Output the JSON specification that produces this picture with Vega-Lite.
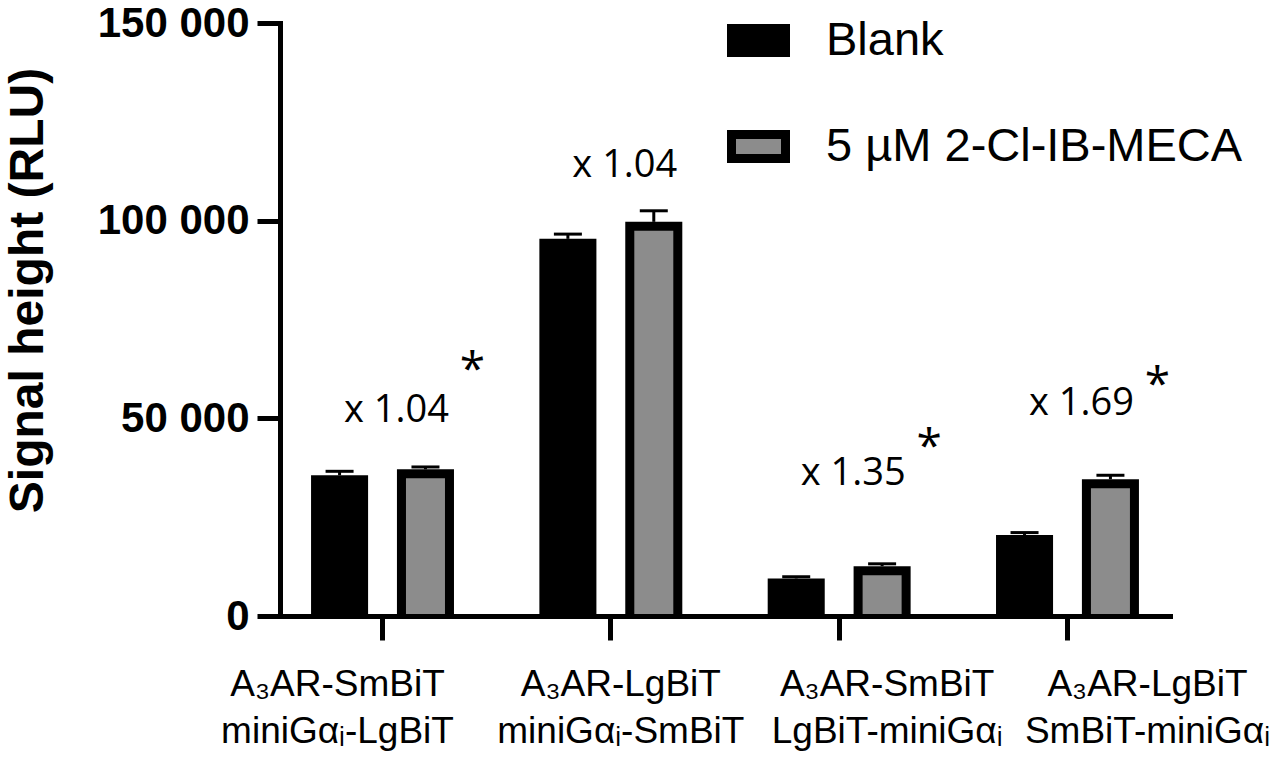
{
  "$schema": "https://vega.github.io/schema/vega-lite/v6.json",
  "width": 890,
  "height": 593,
  "autosize": {"type": "none"},
  "padding": {"left": 280, "top": 23, "right": 116, "bottom": 152},
  "background": "white",
  "config": {"view": {"stroke": null}, "font": "Liberation Sans"},
  "datasets": {
    "bars": [
      {"group": "A₃AR-SmBiT|miniGαᵢ-LgBiT", "treatment": "Blank", "signal": 35600, "upper": 36600},
      {"group": "A₃AR-SmBiT|miniGαᵢ-LgBiT", "treatment": "5 µM 2-Cl-IB-MECA", "signal": 37100, "upper": 37700},
      {"group": "A₃AR-LgBiT|miniGαᵢ-SmBiT", "treatment": "Blank", "signal": 95400, "upper": 96600},
      {"group": "A₃AR-LgBiT|miniGαᵢ-SmBiT", "treatment": "5 µM 2-Cl-IB-MECA", "signal": 99700, "upper": 102500},
      {"group": "A₃AR-SmBiT|LgBiT-miniGαᵢ", "treatment": "Blank", "signal": 9500, "upper": 9900},
      {"group": "A₃AR-SmBiT|LgBiT-miniGαᵢ", "treatment": "5 µM 2-Cl-IB-MECA", "signal": 12600, "upper": 13200},
      {"group": "A₃AR-LgBiT|SmBiT-miniGαᵢ", "treatment": "Blank", "signal": 20500, "upper": 21100},
      {"group": "A₃AR-LgBiT|SmBiT-miniGαᵢ", "treatment": "5 µM 2-Cl-IB-MECA", "signal": 34600, "upper": 35600}
    ],
    "notes": [
      {"group": "A₃AR-SmBiT|miniGαᵢ-LgBiT", "note": "x 1.04", "pos": 49100},
      {"group": "A₃AR-LgBiT|miniGαᵢ-SmBiT", "note": "x 1.04", "pos": 111100},
      {"group": "A₃AR-SmBiT|LgBiT-miniGαᵢ", "note": "x 1.35", "pos": 33200},
      {"group": "A₃AR-LgBiT|SmBiT-miniGαᵢ", "note": "x 1.69", "pos": 50900}
    ],
    "stars": [
      {"group": "A₃AR-SmBiT|miniGαᵢ-LgBiT", "mark": "*", "pos": 58500},
      {"group": "A₃AR-SmBiT|LgBiT-miniGαᵢ", "mark": "*", "pos": 39000},
      {"group": "A₃AR-LgBiT|SmBiT-miniGαᵢ", "mark": "*", "pos": 54700}
    ]
  },
  "resolve": {"scale": {"xOffset": "independent"}},
  "layer": [
    {
      "data": {"name": "bars"},
      "mark": {"type": "bar", "color": "black"},
      "encoding": {
        "x": {
          "field": "group", "type": "nominal", "sort": null,
          "scale": {"paddingInner": 0.374, "paddingOuter": 0.136},
          "axis": {
            "title": null,
            "labelExpr": "split(datum.label, '|')",
            "labelAngle": 0,
            "labelLimit": 0,
            "labelFont": "Liberation Sans",
            "labelFontSize": 37,
            "labelColor": "black",
            "labelLineHeight": 47,
            "labelBaseline": "top",
            "labelPadding": 26,
            "labelOffset": {
              "condition": [
                {"test": "datum.value == 'A₃AR-SmBiT|miniGαᵢ-LgBiT'", "value": -45},
                {"test": "datum.value == 'A₃AR-LgBiT|miniGαᵢ-SmBiT'", "value": 10},
                {"test": "datum.value == 'A₃AR-SmBiT|LgBiT-miniGαᵢ'", "value": 48}
              ],
              "value": 80
            },
            "tickSize": 24,
            "tickWidth": 5,
            "tickColor": "black",
            "domainWidth": 5,
            "domainColor": "black",
            "domainCap": "square",
            "zindex": 1
          }
        },
        "xOffset": {
          "field": "treatment", "type": "nominal", "sort": null,
          "scale": {"domain": ["Blank", "5 µM 2-Cl-IB-MECA"], "paddingInner": 0.336, "paddingOuter": 0}
        },
        "y": {
          "field": "signal", "type": "quantitative",
          "scale": {"domain": [0, 150000], "nice": false},
          "axis": {
            "title": "Signal height (RLU)",
            "values": [0, 50000, 100000, 150000],
            "labelExpr": "replace(format(datum.value, ','), ',', ' ')",
            "labelFont": "Liberation Sans",
            "labelFontWeight": "bold",
            "labelFontSize": 42,
            "labelColor": "black",
            "labelPadding": 8,
            "tickSize": 23,
            "tickWidth": 5,
            "tickColor": "black",
            "domainWidth": 5,
            "domainColor": "black",
            "domainCap": "square",
            "grid": false,
            "titleFont": "Liberation Sans",
            "titleFontSize": 48,
            "titleFontWeight": "bold",
            "titleColor": "black",
            "titleX": -228,
            "titleY": 267,
            "zindex": 1
          }
        }
      }
    },
    {
      "data": {"name": "bars"},
      "transform": [{"filter": "datum.treatment == '5 µM 2-Cl-IB-MECA'"}],
      "mark": {"type": "bar", "yOffset": 9},
      "encoding": {
        "x": {"field": "group", "type": "nominal", "sort": null},
        "xOffset": {
          "field": "treatment", "type": "nominal", "sort": null,
          "scale": {"domain": ["Blank", "5 µM 2-Cl-IB-MECA"], "paddingInner": 0.546, "paddingOuter": 0.1048}
        },
        "y": {"field": "signal", "type": "quantitative"},
        "y2": {"datum": 0},
        "fill": {
          "field": "treatment", "type": "nominal",
          "scale": {"domain": ["Blank", "5 µM 2-Cl-IB-MECA"], "range": ["black", "#8c8c8c"]},
          "legend": {
            "orient": "none",
            "legendX": 447,
            "legendY": -14,
            "title": null,
            "padding": 0,
            "labelFont": "Liberation Sans",
            "labelFontSize": 47,
            "labelColor": "black",
            "labelLimit": 0,
            "labelOffset": 36,
            "rowPadding": 44,
            "symbolType": "M-1,-0.444H1V0.444H-1Z",
            "symbolSize": 2916,
            "symbolStrokeWidth": 9,
            "symbolStrokeColor": "black",
            "symbolOpacity": 1
          }
        }
      }
    },
    {
      "data": {"name": "bars"},
      "mark": {"type": "rule", "color": "black", "strokeWidth": 3},
      "encoding": {
        "x": {"field": "group", "type": "nominal", "sort": null},
        "xOffset": {
          "field": "treatment", "type": "nominal", "sort": null,
          "scale": {"domain": ["Blank", "5 µM 2-Cl-IB-MECA"], "paddingInner": 0.336, "paddingOuter": 0}
        },
        "y": {"field": "signal", "type": "quantitative"},
        "y2": {"field": "upper"}
      }
    },
    {
      "data": {"name": "bars"},
      "mark": {"type": "tick", "color": "black", "thickness": 3, "size": 28, "opacity": 1},
      "encoding": {
        "x": {"field": "group", "type": "nominal", "sort": null},
        "xOffset": {
          "field": "treatment", "type": "nominal", "sort": null,
          "scale": {"domain": ["Blank", "5 µM 2-Cl-IB-MECA"], "paddingInner": 0.336, "paddingOuter": 0}
        },
        "y": {"field": "upper", "type": "quantitative"}
      }
    },
    {
      "data": {"name": "notes"},
      "mark": {"type": "text", "font": "Open Sans", "fontSize": 38, "color": "black", "baseline": "alphabetic", "align": "center", "dx": 14},
      "encoding": {
        "x": {"field": "group", "type": "nominal", "sort": null},
        "y": {"field": "pos", "type": "quantitative"},
        "text": {"field": "note"}
      }
    },
    {
      "data": {"name": "stars"},
      "mark": {"type": "text", "font": "Open Sans", "fontSize": 46, "color": "black", "baseline": "alphabetic", "align": "center", "dx": 90},
      "encoding": {
        "x": {"field": "group", "type": "nominal", "sort": null},
        "y": {"field": "pos", "type": "quantitative"},
        "text": {"field": "mark"}
      }
    }
  ]
}
